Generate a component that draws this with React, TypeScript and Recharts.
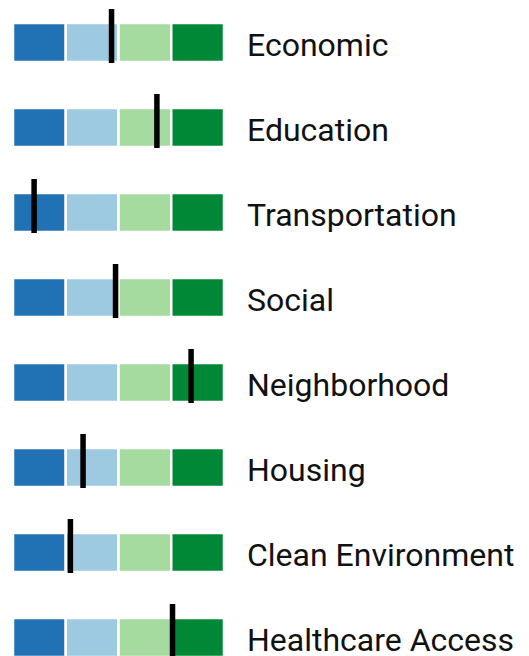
import React from "react";
import { ComposedChart, Bar, XAxis, YAxis, Scatter } from "recharts";

const categories = [
  "Economic",
  "Education",
  "Transportation",
  "Social",
  "Neighborhood",
  "Housing",
  "Clean Environment",
  "Healthcare Access",
];
const scores = [46.7, 68.2, 10.0, 48.6, 84.4, 33.2, 27.2, 75.6];
const quartileWidths = [25, 25, 25, 25];
const quartileKeys = ["q1", "q2", "q3", "q4"];
const quartileColors = ["#2171b5", "#9ecae1", "#a6dba0", "#008837"];

const data = categories.map((name, i) => ({
  name,
  q1: quartileWidths[0],
  q2: quartileWidths[1],
  q3: quartileWidths[2],
  q4: quartileWidths[3],
  score: scores[i],
}));

const Marker = (props: any) => {
  const { cx, cy } = props;
  if (cx == null || cy == null) return null;
  return <rect x={cx - 2.75} y={cy - 33.5} width={5.5} height={54} fill="#000" />;
};

const Tick = (props: any) => {
  const { x, y, payload } = props;
  return (
    <text
      x={x + 15}
      y={y + 13}
      textAnchor="start"
      fontFamily="Roboto, sans-serif"
      fontSize={32}
      fill="#111"
    >
      {payload.value}
    </text>
  );
};

export default function App() {
  return (
    <div style={{ position: "absolute", left: 0, top: 0, width: 529, height: 680, background: "#fff" }}>
      <ComposedChart
        width={529}
        height={680}
        data={data}
        layout="vertical"
        margin={{ top: 0, right: 0, bottom: 0, left: 13 }}
        barCategoryGap={0}
      >
        <XAxis type="number" domain={[0, 100]} hide />
        <YAxis
          type="category"
          dataKey="name"
          orientation="right"
          width={305}
          axisLine={false}
          tickLine={false}
          tick={<Tick />}
          interval={0}
        />
        {quartileKeys.map((k, i) => (
          <Bar
            key={k}
            dataKey={k}
            stackId="q"
            fill={quartileColors[i]}
            stroke="#fff"
            strokeWidth={2.5}
            barSize={39}
            isAnimationActive={false}
          />
        ))}
        <Scatter dataKey="score" shape={<Marker />} isAnimationActive={false} />
      </ComposedChart>
    </div>
  );
}
